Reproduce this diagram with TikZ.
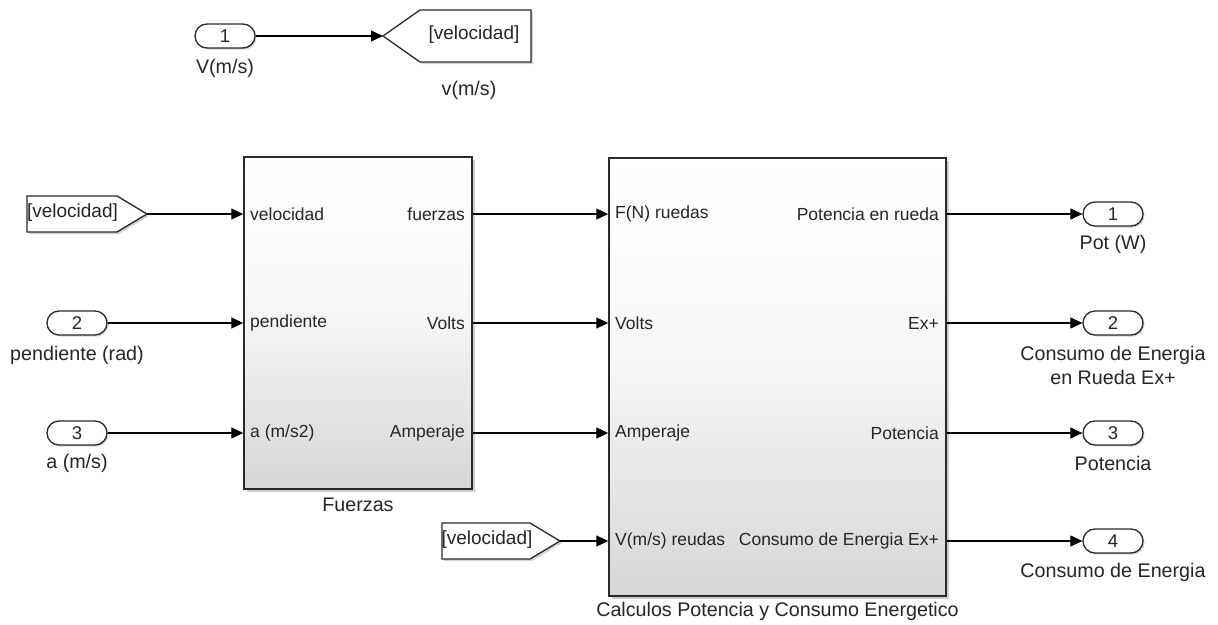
\documentclass[tikz,border=0pt]{standalone}
\usepackage{fontspec}
\setmainfont{Liberation Sans}
\usetikzlibrary{arrows.meta,shapes.misc,shadows}
\definecolor{txt}{HTML}{262626}
\definecolor{edge}{HTML}{2A2A2A}
\tikzset{
  sig/.style={line width=1.2pt, draw=black, -{Triangle[length=12pt,width=11pt]}},
  pill/.style={draw=edge, line width=1.3pt, rounded rectangle, fill=white,
    minimum width=60pt, minimum height=24pt, inner sep=0pt, text=txt,
    font=\fontsize{18.5}{20}\selectfont,
    drop shadow={shadow xshift=1.5pt, shadow yshift=-1.5pt, opacity=0.35}},
  blk/.style={draw=edge, line width=1.5pt, shading=axis, top color=white,
    bottom color=black!16, middle color=black!4,
    drop shadow={shadow xshift=2.5pt, shadow yshift=-2.5pt, opacity=0.4}},
  tagshape/.style={draw=edge, line width=1.3pt, fill=white,
    drop shadow={shadow xshift=2pt, shadow yshift=-2pt, opacity=0.35}},
  tagtxt/.style={text=txt, inner sep=0pt, font=\fontsize{19}{21}\selectfont},
  port/.style={text=txt, inner sep=0pt, font=\fontsize{17.5}{20}\selectfont},
  lbl/.style={text=txt, inner sep=0pt, font=\fontsize{19.7}{23}\selectfont, align=center},
}
\begin{document}
\begin{tikzpicture}[x=1pt,y=-1pt]
\useasboundingbox[fill=white] (0,0) rectangle (1218,624);

% top inport and goto
\node[pill] (in1) at (225,36) {1};
\node[lbl] (in1l) at (225,68) {V(m/s)};
\draw[tagshape] (383,36) -- (420,10) -- (531,10) -- (531,62) -- (420,62) -- cycle;
\coordinate (gotoTip) at (383,36);
\node[tagtxt] (gotoT) at (474,35) {[velocidad]};
\node[lbl] (gotoL) at (469,90) {v(m/s)};
\draw[sig] (in1.east) -- (gotoTip);

% blocks
\node[blk, minimum width=228pt, minimum height=332pt] (F) at (358,323) {};
\node[lbl] (Fl) at (358,505) {Fuerzas};
\node[blk, minimum width=337pt, minimum height=438pt] (C) at (777.5,377) {};
\node[lbl] (Cl) at (777.5,611) {Calculos Potencia y Consumo Energetico};

% Fuerzas ports
\node[port, anchor=west] (Fi1) at (250,214) {velocidad};
\node[port, anchor=west] (Fi2) at (250,323) {pendiente};
\node[port, anchor=west] (Fi3) at (250,433) {a (m/s2)};
\node[port, anchor=east] (Fo1) at (465,214) {fuerzas};
\node[port, anchor=east] (Fo2) at (465,323) {Volts};
\node[port, anchor=east] (Fo3) at (465,433) {Amperaje};

% Calculos ports
\node[port, anchor=west] (Ci1) at (615,214) {F(N) ruedas};
\node[port, anchor=west] (Ci2) at (615,323) {Volts};
\node[port, anchor=west] (Ci3) at (615,433) {Amperaje};
\node[port, anchor=west] (Ci4) at (615,541) {V(m/s) reudas};
\node[port, anchor=east] (Co1) at (939,214) {Potencia en rueda};
\node[port, anchor=east] (Co2) at (939,323) {Ex+};
\node[port, anchor=east] (Co3) at (939,433) {Potencia};
\node[port, anchor=east] (Co4) at (939,541) {Consumo de Energia Ex+};

% from tag A
\draw[tagshape] (27,196) -- (117,196) -- (147,214) -- (117,232) -- (27,232) -- cycle;
\coordinate (fromA) at (147,214);
\node[tagtxt] (fromAT) at (72.5,213) {[velocidad]};
% from tag B
\draw[tagshape] (442,523) -- (530,523) -- (560,541) -- (530,559) -- (442,559) -- cycle;
\coordinate (fromB) at (560,541);
\node[tagtxt] (fromBT) at (487,540) {[velocidad]};

% inports
\node[pill] (in2) at (77,323) {2};
\node[lbl] (in2l) at (77,355) {pendiente (rad)};
\node[pill] (in3) at (77,433) {3};
\node[lbl] (in3l) at (77,463) {a (m/s)};

% outports
\node[pill] (o1) at (1113,214) {1};
\node[lbl] (o1l) at (1113,244) {Pot (W)};
\node[pill] (o2) at (1113,323) {2};
\node[lbl, font=\fontsize{19.7}{24}\selectfont] (o2l) at (1113,365) {Consumo de Energia\\en Rueda Ex+};
\node[pill] (o3) at (1113,433) {3};
\node[lbl] (o3l) at (1113,463) {Potencia};
\node[pill] (o4) at (1113,541) {4};
\node[lbl] (o4l) at (1113,572) {Consumo de Energia};

% signals
\draw[sig] (fromA) -- (F.west |- fromA);
\draw[sig] (in2.east) -- (F.west |- in2);
\draw[sig] (in3.east) -- (F.west |- in3);
\draw[sig] (F.east |- Fo1) -- (C.west |- Ci1);
\draw[sig] (F.east |- Fo2) -- (C.west |- Ci2);
\draw[sig] (F.east |- Fo3) -- (C.west |- Ci3);
\draw[sig] (fromB) -- (C.west |- fromB);
\draw[sig] (C.east |- Co1) -- (o1.west);
\draw[sig] (C.east |- Co2) -- (o2.west);
\draw[sig] (C.east |- Co3) -- (o3.west);
\draw[sig] (C.east |- Co4) -- (o4.west);
\end{tikzpicture}
\end{document}
